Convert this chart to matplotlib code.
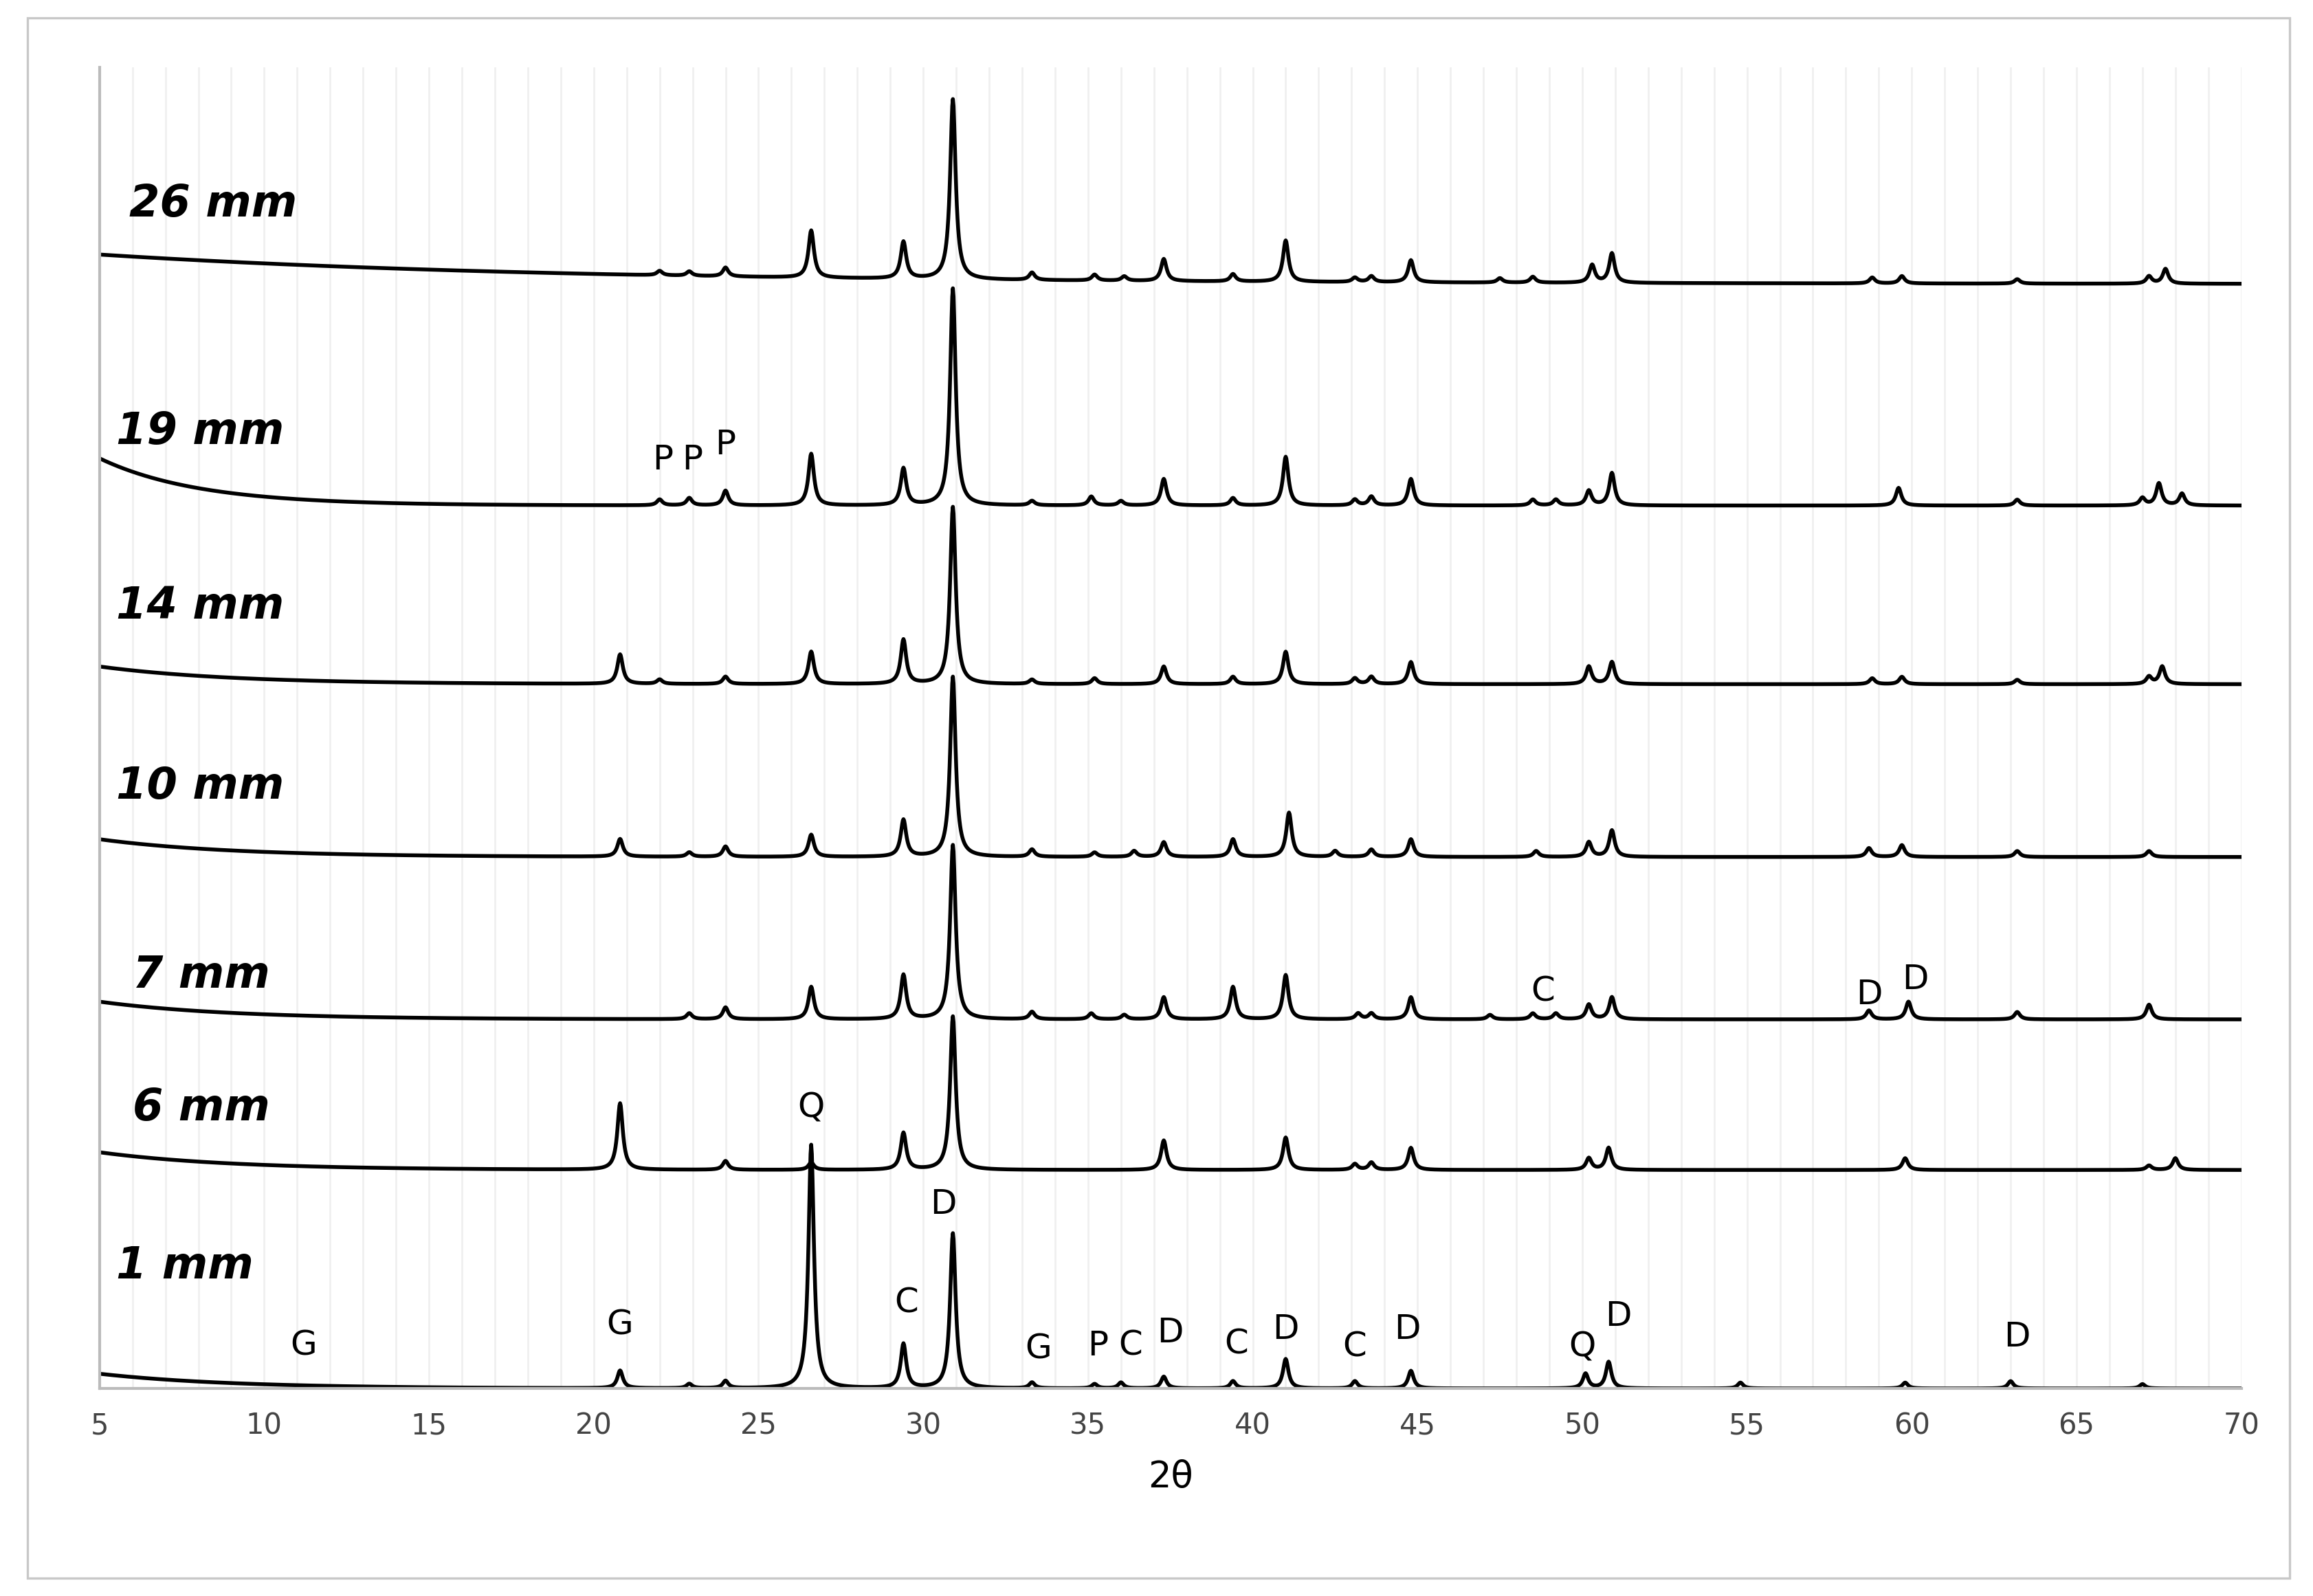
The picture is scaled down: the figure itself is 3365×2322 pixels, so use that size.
import numpy as np
import matplotlib.pyplot as plt
from matplotlib.patches import Rectangle

# sample labels, vertical offsets and label anchors
samples = ["1 mm", "6 mm", "7 mm", "10 mm", "14 mm", "19 mm", "26 mm"]
offsets = [0, 148, 250, 360, 477, 598, 748]
label_x = [5.5, 6.0, 6.0, 5.5, 5.5, 5.5, 5.9]
label_y = [83, 190, 280, 408, 530, 648, 802]

# low-angle background: start height, decay length
bg_h = [10, 12, 12, 12, 12, 32, 20]
bg_tau = [4, 4, 4, 4, 4, 3, 14]

# peaks per sample: (2theta, height)
peaks = [
    [(20.8, 12), (22.9, 3), (24.0, 5), (26.6, 165), (29.4, 30), (30.9, 105), (33.3, 4),
     (35.2, 3), (36.0, 4), (37.3, 8), (39.4, 5), (41.0, 20), (43.1, 5), (44.8, 12),
     (50.1, 10), (50.8, 18), (54.8, 4), (59.8, 4), (63.0, 5), (67.0, 3)],
    [(20.8, 45), (24.0, 6), (26.6, 5), (29.4, 25), (30.9, 104), (37.3, 20), (41.0, 22),
     (43.1, 4), (43.6, 5), (44.8, 15), (50.2, 8), (50.8, 15), (59.8, 8), (68.0, 8), (67.2, 3)],
    [(22.9, 4), (24.0, 8), (26.6, 22), (29.4, 30), (30.9, 118), (33.3, 5), (35.1, 4),
     (36.1, 3), (37.3, 15), (39.4, 22), (41.0, 30), (43.2, 4), (43.6, 4), (44.8, 15),
     (47.2, 3), (48.5, 4), (49.2, 4), (50.2, 10), (50.9, 15), (58.7, 6), (59.9, 12),
     (63.2, 5), (67.2, 10)],
    [(20.8, 12), (22.9, 3), (24.0, 7), (26.6, 15), (29.4, 25), (30.9, 122), (33.3, 5),
     (35.2, 3), (36.4, 4), (37.3, 10), (39.4, 12), (41.1, 30), (42.5, 4), (43.6, 5),
     (44.8, 12), (48.6, 4), (50.2, 10), (50.9, 18), (58.7, 6), (59.7, 8), (63.2, 4), (67.2, 4)],
    [(20.8, 20), (22.0, 3), (24.0, 5), (26.6, 22), (29.4, 30), (30.9, 120), (33.3, 3),
     (35.2, 4), (37.3, 12), (39.4, 5), (41.0, 22), (43.1, 4), (43.6, 5), (44.8, 15),
     (50.2, 12), (50.9, 15), (58.8, 4), (59.7, 5), (63.2, 3), (67.2, 5), (67.6, 12)],
    [(22.0, 4), (22.9, 5), (24.0, 10), (26.6, 35), (29.4, 25), (30.9, 147), (33.3, 3),
     (35.1, 6), (36.0, 3), (37.3, 18), (39.4, 5), (41.0, 33), (43.1, 4), (43.6, 6),
     (44.8, 18), (48.5, 4), (49.2, 4), (50.2, 10), (50.9, 22), (59.6, 12), (63.2, 4),
     (67.0, 5), (67.5, 15), (68.2, 8)],
    [(22.0, 3), (22.9, 3), (24.0, 6), (26.6, 32), (29.4, 25), (30.9, 122), (33.3, 5),
     (35.2, 4), (36.1, 3), (37.3, 15), (39.4, 5), (41.0, 28), (43.1, 3), (43.6, 4),
     (44.8, 15), (47.5, 3), (48.5, 4), (50.3, 12), (50.9, 20), (58.8, 4), (59.7, 5),
     (63.2, 3), (67.2, 5), (67.7, 10)],
]

# phase annotations: (letter, 2theta, y)
notes = [("G", 11.2, 29), ("G", 20.8, 43), ("Q", 26.6, 190), ("C", 29.5, 58), ("D", 30.6, 125),
         ("G", 33.5, 27), ("P", 35.3, 29), ("C", 36.3, 29), ("D", 37.5, 38), ("C", 39.5, 30),
         ("D", 41.0, 40), ("C", 43.1, 28), ("D", 44.7, 40), ("Q", 50.0, 28), ("D", 51.1, 49),
         ("D", 63.2, 35), ("C", 48.8, 269), ("D", 58.7, 267), ("D", 60.1, 277),
         ("P", 22.1, 629), ("P", 23.0, 629), ("P", 24.0, 639)]

x = np.arange(5, 70.001, 0.02)
w = 0.1

fig = plt.figure(figsize=(16.825, 11.61), dpi=200)
fig.patches.append(Rectangle((0.012, 0.011), 0.978, 0.978, transform=fig.transFigure,
                             fill=False, edgecolor="#c8c8c8", linewidth=1.2))
ax = fig.add_axes([0.043, 0.13, 0.926, 0.828])

for name, off, lx, ly, h0, tau, pk in zip(samples, offsets, label_x, label_y, bg_h, bg_tau, peaks):
    y = off + h0 * np.exp(-(x - 5) / tau)
    for pos, hgt in pk:
        y = y + hgt / (1 + ((x - pos) / w) ** 2)
    ax.plot(x, y, color="black", linewidth=2.0)
    ax.text(lx, ly, name, fontsize=23, fontweight="bold", fontstyle="italic", va="center")

for letter, px, py in notes:
    ax.text(px, py, letter, fontsize=18, ha="center", va="center")

ax.set_xlim(5, 70)
ax.set_ylim(0, 895)
ax.set_xticks(np.arange(5, 71, 5))
ax.set_xticks(np.arange(5, 71, 1), minor=True)
ax.grid(True, which="both", axis="x", color="#f0f0f0", linewidth=1)
ax.set_axisbelow(True)
ax.tick_params(axis="x", which="both", length=0, labelsize=15, pad=12, colors="#444444")
ax.set_yticks([])
ax.spines["top"].set_visible(False)
ax.spines["right"].set_visible(False)
ax.spines["left"].set_color("#bbbbbb")
ax.spines["bottom"].set_color("#bbbbbb")
ax.spines["left"].set_linewidth(1.5)
ax.spines["bottom"].set_linewidth(1.5)
ax.set_xlabel("2θ", fontsize=19, labelpad=10)

fig.savefig("out.png", dpi=200)
